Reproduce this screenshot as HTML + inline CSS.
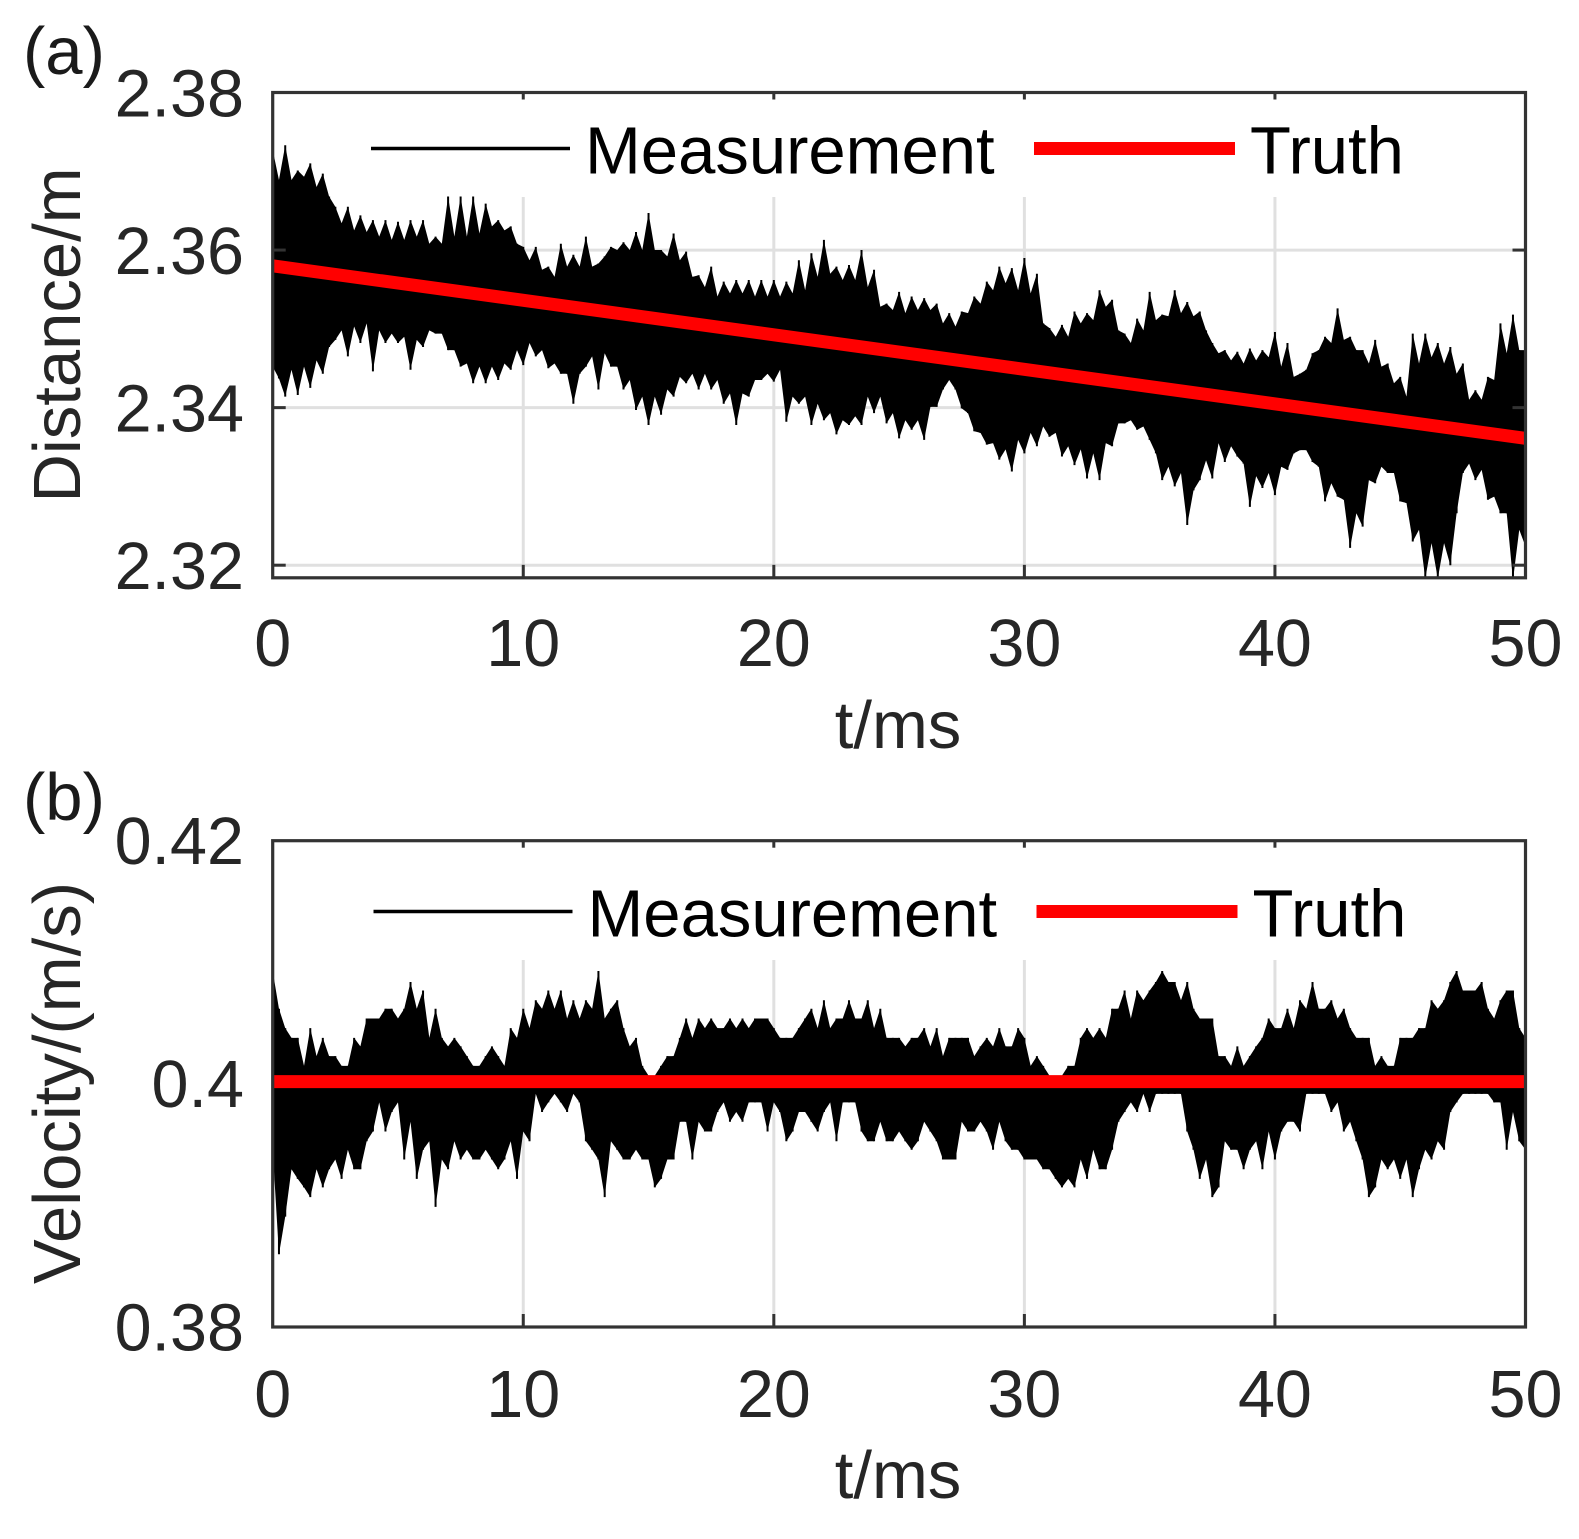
<!DOCTYPE html>
<html lang="en">
<head>
<meta charset="utf-8">
<title>Distance and velocity measurement versus truth</title>
<style>
  html,body{margin:0;padding:0;background:#fff;}
  #figure{display:block;width:1579px;height:1539px;}
  text{font-family:"Liberation Sans",Arial,sans-serif;font-size:66.5px;fill:#262626;}
  .legend-text{fill:#000;font-size:67px;}
  .axis-title{font-size:67px;}
  .panel-label{fill:#1a1a1a;font-size:67px;}
</style>
</head>
<body>
<svg id="figure" xmlns="http://www.w3.org/2000/svg" width="1579" height="1539" viewBox="0 0 1579 1539">
  <rect x="0" y="0" width="1579" height="1539" fill="#ffffff"/>
  <g id="panel-a"></g>
  <g id="panel-b"></g>
  <text class="panel-label" x="23" y="74">(a)</text>
  <text class="panel-label" x="23" y="820">(b)</text>
</svg>
<script>
// Shared x axis
const timeTicks = [0, 10, 20, 30, 40, 50];
const timeTickLabels = ['0', '10', '20', '30', '40', '50'];
const sampleStepMs = 0.25;

// Panel (a): distance in metres
const distanceTicks = [2.38, 2.36, 2.34, 2.32];
const distanceTickLabels = ['2.38', '2.36', '2.34', '2.32'];
const distanceTruthTimes = [0, 50];
const distanceTruth = [2.3580, 2.3361];
const distanceHigh = [
2.3727,2.3689,2.3733,2.3689,2.3701,2.3693,2.3710,2.3680,2.3697,2.3668,2.3655,2.3634,
2.3655,2.3625,2.3644,2.3623,2.3638,2.3617,2.3638,2.3613,2.3636,2.3613,2.3638,2.3617,
2.3638,2.3608,2.3617,2.3608,2.3668,2.3617,2.3668,2.3617,2.3668,2.3621,2.3659,2.3630,
2.3638,2.3625,2.3630,2.3608,2.3604,2.3587,2.3604,2.3575,2.3579,2.3566,2.3608,2.3579,
2.3594,2.3579,2.3617,2.3579,2.3583,2.3592,2.3604,2.3600,2.3610,2.3600,2.3623,2.3600,
2.3647,2.3600,2.3600,2.3592,2.3621,2.3587,2.3598,2.3566,2.3568,2.3553,2.3579,2.3541,
2.3560,2.3545,2.3562,2.3545,2.3562,2.3541,2.3562,2.3541,2.3562,2.3541,2.3560,2.3545,
2.3587,2.3549,2.3596,2.3566,2.3613,2.3570,2.3579,2.3562,2.3581,2.3562,2.3600,2.3553,
2.3575,2.3528,2.3532,2.3524,2.3547,2.3520,2.3541,2.3524,2.3539,2.3524,2.3532,2.3507,
2.3520,2.3503,2.3522,2.3520,2.3541,2.3532,2.3560,2.3549,2.3579,2.3558,2.3577,2.3549,
2.3590,2.3545,2.3570,2.3507,2.3501,2.3490,2.3505,2.3490,2.3522,2.3507,2.3520,2.3511,
2.3549,2.3528,2.3537,2.3498,2.3494,2.3482,2.3513,2.3498,2.3547,2.3511,2.3518,2.3516,
2.3549,2.3520,2.3534,2.3516,2.3522,2.3498,2.3482,2.3469,2.3473,2.3460,2.3471,2.3456,
2.3475,2.3460,2.3473,2.3464,2.3496,2.3452,2.3482,2.3439,2.3443,2.3448,2.3469,2.3473,
2.3490,2.3482,2.3526,2.3486,2.3490,2.3473,2.3473,2.3456,2.3486,2.3452,2.3456,2.3431,
2.3439,2.3414,2.3494,2.3456,2.3494,2.3464,2.3482,2.3456,2.3477,2.3443,2.3456,2.3410,
2.3422,2.3410,2.3439,2.3435,2.3507,2.3469,2.3518,2.3473,2.3473
];
const distanceLow = [
2.3452,2.3437,2.3414,2.3448,2.3416,2.3452,2.3425,2.3460,2.3443,2.3477,2.3486,2.3498,
2.3465,2.3503,2.3482,2.3507,2.3446,2.3498,2.3482,2.3494,2.3482,2.3490,2.3448,2.3486,
2.3477,2.3498,2.3494,2.3494,2.3473,2.3473,2.3452,2.3456,2.3431,2.3452,2.3431,2.3452,
2.3435,2.3456,2.3448,2.3473,2.3454,2.3482,2.3465,2.3473,2.3450,2.3456,2.3443,2.3443,
2.3405,2.3443,2.3452,2.3465,2.3423,2.3469,2.3452,2.3452,2.3423,2.3435,2.3397,2.3414,
2.3378,2.3414,2.3391,2.3423,2.3414,2.3439,2.3431,2.3443,2.3423,2.3443,2.3423,2.3435,
2.3405,2.3418,2.3378,2.3418,2.3414,2.3435,2.3435,2.3443,2.3433,2.3448,2.3382,2.3414,
2.3405,2.3414,2.3378,2.3405,2.3384,2.3393,2.3366,2.3384,2.3378,2.3389,2.3378,2.3414,
2.3393,2.3414,2.3380,2.3393,2.3361,2.3384,2.3372,2.3384,2.3359,2.3401,2.3401,2.3423,
2.3435,2.3423,2.3399,2.3393,2.3370,2.3368,2.3353,2.3355,2.3334,2.3347,2.3319,2.3359,
2.3342,2.3368,2.3351,2.3376,2.3363,2.3368,2.3338,2.3351,2.3327,2.3347,2.3310,2.3342,
2.3308,2.3355,2.3351,2.3380,2.3380,2.3384,2.3372,2.3376,2.3359,2.3342,2.3308,2.3325,
2.3300,2.3317,2.3251,2.3295,2.3308,2.3333,2.3310,2.3355,2.3331,2.3351,2.3338,2.3329,
2.3274,2.3313,2.3298,2.3317,2.3289,2.3325,2.3321,2.3342,2.3346,2.3346,2.3331,2.3325,
2.3281,2.3304,2.3287,2.3283,2.3222,2.3266,2.3249,2.3308,2.3304,2.3325,2.3317,2.3317,
2.3281,2.3279,2.3230,2.3245,2.3183,2.3228,2.3183,2.3228,2.3200,2.3266,2.3317,2.3329,
2.3308,2.3321,2.3283,2.3287,2.3266,2.3266,2.3181,2.3245,2.3224
];

// Panel (b): velocity in m/s
const velocityTicks = [0.42, 0.4, 0.38];
const velocityTickLabels = ['0.42', '0.4', '0.38'];
const velocityTruthTimes = [0, 50];
const velocityTruth = [0.4, 0.4];
const velocityHigh = [
.4091,.4060,.4044,.4036,.4036,.4013,.4044,.4021,.4036,.4021,.4021,.4013,
.4013,.4036,.4029,.4052,.4052,.4052,.4060,.4060,.4052,.4060,.4082,.4060,
.4075,.4036,.4060,.4036,.4029,.4036,.4029,.4021,.4013,.4013,.4021,.4029,
.4021,.4013,.4044,.4036,.4060,.4044,.4067,.4060,.4075,.4060,.4075,.4052,
.4067,.4052,.4067,.4060,.4091,.4052,.4060,.4067,.4044,.4029,.4036,.4013,
.4005,.4005,.4013,.4021,.4021,.4036,.4052,.4036,.4052,.4044,.4052,.4044,
.4044,.4052,.4044,.4052,.4044,.4052,.4052,.4052,.4044,.4036,.4036,.4036,
.4044,.4052,.4060,.4044,.4067,.4044,.4052,.4052,.4067,.4052,.4052,.4067,
.4044,.4060,.4036,.4036,.4036,.4029,.4036,.4036,.4044,.4029,.4044,.4021,
.4036,.4036,.4036,.4036,.4021,.4029,.4036,.4029,.4044,.4029,.4029,.4044,
.4036,.4013,.4021,.4013,.4005,.4005,.4005,.4013,.4013,.4036,.4044,.4036,
.4044,.4036,.4060,.4060,.4075,.4052,.4075,.4067,.4075,.4082,.4091,.4082,
.4082,.4067,.4082,.4060,.4052,.4052,.4052,.4021,.4021,.4013,.4029,.4013,
.4021,.4029,.4036,.4052,.4044,.4044,.4060,.4044,.4067,.4060,.4082,.4060,
.4060,.4067,.4052,.4060,.4044,.4036,.4036,.4036,.4013,.4021,.4013,.4013,
.4036,.4036,.4036,.4044,.4044,.4067,.4060,.4067,.4082,.4091,.4075,.4075,
.4075,.4082,.4060,.4052,.4067,.4075,.4075,.4044,.4036
];
const velocityLow = [
.3944,.3858,.3889,.3928,.3920,.3913,.3905,.3928,.3913,.3928,.3936,.3920,
.3944,.3928,.3928,.3951,.3959,.3983,.3959,.3975,.3983,.3936,.3967,.3920,
.3944,.3951,.3897,.3936,.3928,.3951,.3936,.3944,.3936,.3936,.3944,.3936,
.3928,.3936,.3951,.3920,.3959,.3951,.3990,.3975,.3983,.3990,.3983,.3975,
.3990,.3983,.3951,.3944,.3936,.3905,.3951,.3944,.3936,.3936,.3944,.3936,
.3936,.3913,.3920,.3936,.3936,.3967,.3967,.3936,.3967,.3959,.3959,.3975,
.3983,.3967,.3975,.3967,.3983,.3983,.3983,.3959,.3983,.3975,.3951,.3959,
.3975,.3975,.3967,.3959,.3975,.3983,.3951,.3983,.3983,.3983,.3959,.3951,
.3951,.3967,.3951,.3951,.3959,.3951,.3944,.3951,.3967,.3959,.3951,.3936,
.3936,.3936,.3967,.3959,.3959,.3967,.3959,.3944,.3967,.3951,.3944,.3944,
.3936,.3936,.3936,.3928,.3928,.3920,.3913,.3920,.3913,.3936,.3920,.3944,
.3928,.3928,.3944,.3967,.3975,.3983,.3975,.3990,.3975,.3990,.3990,.3990,
.3990,.3990,.3959,.3944,.3920,.3936,.3905,.3913,.3951,.3944,.3944,.3928,
.3944,.3951,.3928,.3959,.3936,.3959,.3967,.3967,.3959,.3990,.3990,.3990,
.3990,.3975,.3983,.3959,.3967,.3951,.3936,.3905,.3913,.3936,.3928,.3936,
.3920,.3936,.3905,.3928,.3944,.3936,.3951,.3944,.3975,.3983,.3990,.3990,
.3990,.3990,.3990,.3983,.3983,.3944,.3975,.3951,.3944
];

const SVG_NS = 'http://www.w3.org/2000/svg';
const AXIS_COLOR = '#333333';
const GRID_COLOR = '#e0e0e0';

function makeScale(d0, d1, r0, r1) {
  return function (v) { return r0 + (v - d0) / (d1 - d0) * (r1 - r0); };
}

function drawPanel(cfg) {
  const root = document.getElementById(cfg.rootId);
  const x = makeScale(0, 50, cfg.left, cfg.right);
  const y = makeScale(cfg.yMin, cfg.yMax, cfg.bottom, cfg.top);

  // Grid
  timeTicks.slice(1, -1).forEach(function (t) {
    const g = document.createElementNS(SVG_NS, 'line');
    
    
    g.setAttribute('x1', x(t)); g.setAttribute('x2', x(t));
    g.setAttribute('y1', cfg.gridTop); g.setAttribute('y2', cfg.bottom);
    g.setAttribute('stroke', GRID_COLOR); g.setAttribute('stroke-width', 3);
    root.appendChild(g);
  });
  cfg.gridY.forEach(function (v) {
    const g = document.createElementNS(SVG_NS, 'line');
    
    
    g.setAttribute('x1', cfg.left); g.setAttribute('x2', cfg.right);
    g.setAttribute('y1', y(v)); g.setAttribute('y2', y(v));
    g.setAttribute('stroke', GRID_COLOR); g.setAttribute('stroke-width', 3);
    root.appendChild(g);
  });

  // Clip for the data
  const clip = document.createElementNS(SVG_NS, 'clipPath');
  clip.setAttribute('id', cfg.rootId + '-clip');
  const clipRect = document.createElementNS(SVG_NS, 'rect');
  clipRect.setAttribute('x', cfg.left);
  clipRect.setAttribute('y', cfg.top);
  clipRect.setAttribute('width', cfg.right - cfg.left);
  clipRect.setAttribute('height', cfg.bottom - cfg.top);
  clip.appendChild(clipRect);
  root.appendChild(clip);

  // Measurement: jagged band through every sample, plus a spike at each sample
  let bodyTop = '';
  let bodyBottom = '';
  let spikes = '';
  for (let i = 0; i < cfg.high.length; i++) {
    const xi = x(i * sampleStepMs).toFixed(2);
    const yh = y(cfg.high[i]).toFixed(2);
    const yl = y(cfg.low[i]).toFixed(2);
    spikes += 'M' + xi + ' ' + yl + 'V' + yh;
    bodyTop += (i ? 'L' : 'M') + xi + ' ' + yh;
    bodyBottom = 'L' + xi + ' ' + yl + bodyBottom;
  }
  const body = document.createElementNS(SVG_NS, 'path');
  
  
  body.setAttribute('d', bodyTop + bodyBottom + 'Z');
  body.setAttribute('fill', '#000');
  body.setAttribute('clip-path', 'url(#' + cfg.rootId + '-clip)');
  root.appendChild(body);

  const spikePath = document.createElementNS(SVG_NS, 'path');
  
  
  spikePath.setAttribute('d', spikes);
  spikePath.setAttribute('fill', 'none');
  spikePath.setAttribute('stroke', '#000');
  spikePath.setAttribute('stroke-width', 2);
  spikePath.setAttribute('clip-path', 'url(#' + cfg.rootId + '-clip)');
  root.appendChild(spikePath);

  // Truth
  const truth = document.createElementNS(SVG_NS, 'line');
  
  
  truth.setAttribute('x1', x(cfg.truthTimes[0]));
  truth.setAttribute('y1', y(cfg.truth[0]));
  truth.setAttribute('x2', x(cfg.truthTimes[1]));
  truth.setAttribute('y2', y(cfg.truth[1]));
  truth.setAttribute('stroke', '#ff0000');
  truth.setAttribute('stroke-width', 13);
  root.appendChild(truth);

  // Frame
  const frame = document.createElementNS(SVG_NS, 'rect');
  
  
  frame.setAttribute('x', cfg.left);
  frame.setAttribute('y', cfg.top);
  frame.setAttribute('width', cfg.right - cfg.left);
  frame.setAttribute('height', cfg.bottom - cfg.top);
  frame.setAttribute('fill', 'none');
  frame.setAttribute('stroke', AXIS_COLOR);
  frame.setAttribute('stroke-width', 3.2);
  root.appendChild(frame);

  // X ticks and labels
  timeTicks.forEach(function (t, i) {
    if (i > 0 && i < timeTicks.length - 1) {
      const tb = document.createElementNS(SVG_NS, 'line');
      
      
      tb.setAttribute('x1', x(t)); tb.setAttribute('x2', x(t));
      tb.setAttribute('y1', cfg.bottom); tb.setAttribute('y2', cfg.bottom - 13);
      tb.setAttribute('stroke', AXIS_COLOR); tb.setAttribute('stroke-width', 3);
      root.appendChild(tb);
      const tt = document.createElementNS(SVG_NS, 'line');
      
      
      tt.setAttribute('x1', x(t)); tt.setAttribute('x2', x(t));
      tt.setAttribute('y1', cfg.top); tt.setAttribute('y2', cfg.top + 7);
      tt.setAttribute('stroke', AXIS_COLOR); tt.setAttribute('stroke-width', 3);
      root.appendChild(tt);
    }
    const lab = document.createElementNS(SVG_NS, 'text');
    
    
    lab.setAttribute('x', x(t));
    lab.setAttribute('y', cfg.xLabelBaseline);
    lab.setAttribute('text-anchor', 'middle');
    lab.textContent = timeTickLabels[i];
    root.appendChild(lab);
  });

  // Y ticks and labels
  cfg.yTicks.forEach(function (v, i) {
    cfg.tickedY.forEach(function (allowed) {
      if (allowed !== v) return;
      const tl = document.createElementNS(SVG_NS, 'line');
      
      
      tl.setAttribute('x1', cfg.left); tl.setAttribute('x2', cfg.left + 13);
      tl.setAttribute('y1', y(v)); tl.setAttribute('y2', y(v));
      tl.setAttribute('stroke', AXIS_COLOR); tl.setAttribute('stroke-width', 3);
      root.appendChild(tl);
      const tr = document.createElementNS(SVG_NS, 'line');
      
      
      tr.setAttribute('x1', cfg.right); tr.setAttribute('x2', cfg.right - 13);
      tr.setAttribute('y1', y(v)); tr.setAttribute('y2', y(v));
      tr.setAttribute('stroke', AXIS_COLOR); tr.setAttribute('stroke-width', 3);
      root.appendChild(tr);
    });
    const lab = document.createElementNS(SVG_NS, 'text');
    
    
    lab.setAttribute('x', 244);
    lab.setAttribute('y', y(v) + cfg.yLabelOffset);
    lab.setAttribute('text-anchor', 'end');
    lab.textContent = cfg.yTickLabels[i];
    root.appendChild(lab);
  });

  // Axis titles
  const xt = document.createElementNS(SVG_NS, 'text');
  
  
  xt.setAttribute('class', 'axis-title');
  xt.setAttribute('x', 898);
  xt.setAttribute('y', cfg.xTitleBaseline);
  xt.setAttribute('text-anchor', 'middle');
  xt.textContent = 't/ms';
  root.appendChild(xt);

  const yt = document.createElementNS(SVG_NS, 'text');
  
  
  yt.setAttribute('class', 'axis-title');
  yt.setAttribute('text-anchor', 'middle');
  yt.setAttribute('transform', 'translate(' + cfg.yTitleX + ' ' + cfg.yTitleY + ') rotate(-90)');
  yt.textContent = cfg.yTitle;
  root.appendChild(yt);

  // Legend
  const l1 = document.createElementNS(SVG_NS, 'line');
  
  
  l1.setAttribute('x1', cfg.legendX); l1.setAttribute('x2', cfg.legendX + 199);
  l1.setAttribute('y1', cfg.legendY); l1.setAttribute('y2', cfg.legendY);
  l1.setAttribute('stroke', '#000'); l1.setAttribute('stroke-width', 3.6);
  root.appendChild(l1);

  const t1 = document.createElementNS(SVG_NS, 'text');
  
  
  t1.setAttribute('class', 'legend-text');
  t1.setAttribute('x', cfg.legendX + 214);
  t1.setAttribute('y', cfg.legendY + 25);
  t1.textContent = 'Measurement';
  root.appendChild(t1);

  const l2 = document.createElementNS(SVG_NS, 'line');
  
  
  l2.setAttribute('x1', cfg.legendX + 663); l2.setAttribute('x2', cfg.legendX + 864);
  l2.setAttribute('y1', cfg.legendY); l2.setAttribute('y2', cfg.legendY);
  l2.setAttribute('stroke', '#ff0000'); l2.setAttribute('stroke-width', 13);
  root.appendChild(l2);

  const t2 = document.createElementNS(SVG_NS, 'text');
  
  
  t2.setAttribute('class', 'legend-text');
  t2.setAttribute('x', cfg.legendX + 879);
  t2.setAttribute('y', cfg.legendY + 25);
  t2.textContent = 'Truth';
  root.appendChild(t2);
}

drawPanel({
  rootId: 'panel-a',
  left: 272.7, right: 1525.5, top: 92.5, bottom: 577.8,
  yMin: 2.3184, yMax: 2.38,
  gridTop: 197,
  gridY: [2.36, 2.34, 2.32],
  tickedY: [2.36, 2.34, 2.32],
  high: distanceHigh, low: distanceLow,
  truthTimes: distanceTruthTimes, truth: distanceTruth,
  yTicks: distanceTicks, yTickLabels: distanceTickLabels,
  yLabelOffset: 24,
  xLabelBaseline: 666, xTitleBaseline: 748,
  yTitle: 'Distance/m', yTitleX: 80, yTitleY: 335,
  legendX: 371, legendY: 148.5
});

drawPanel({
  rootId: 'panel-b',
  left: 272.7, right: 1525.5, top: 840.7, bottom: 1327,
  yMin: 0.37982, yMax: 0.41982,
  gridTop: 960,
  gridY: [],
  tickedY: [],
  high: velocityHigh, low: velocityLow,
  truthTimes: velocityTruthTimes, truth: velocityTruth,
  yTicks: velocityTicks, yTickLabels: velocityTickLabels,
  yLabelOffset: 25.5,
  xLabelBaseline: 1417, xTitleBaseline: 1498,
  yTitle: 'Velocity/(m/s)', yTitleX: 80, yTitleY: 1083,
  legendX: 373.5, legendY: 911.5
});
</script>
</body>
</html>
